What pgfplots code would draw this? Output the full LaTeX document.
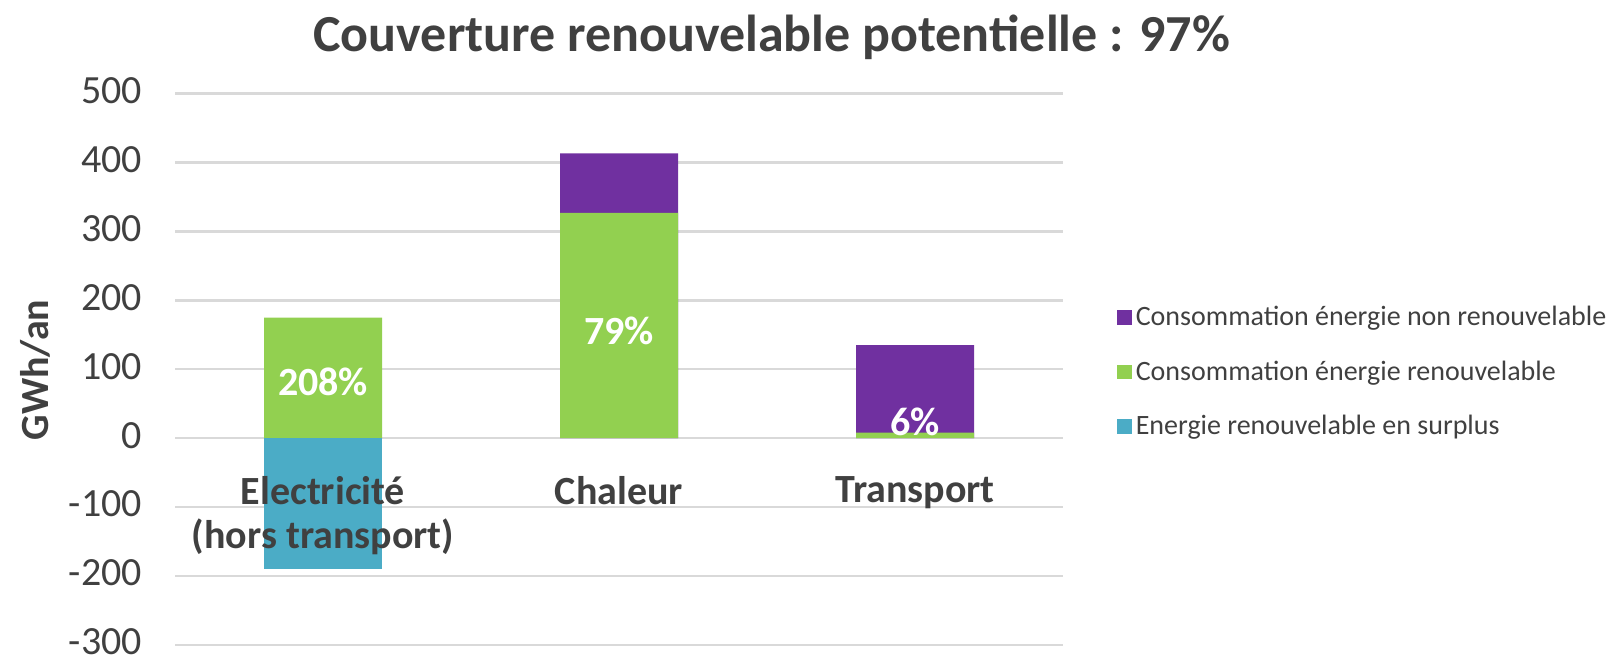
\documentclass[border=0pt]{standalone}
\usepackage{fontspec}
\setmainfont{Carlito}
\usepackage{pgfplots}
\pgfplotsset{compat=1.18}
\definecolor{cpurple}{HTML}{7030A0}
\definecolor{cgreen}{HTML}{92D050}
\definecolor{cblue}{HTML}{4BACC6}
\definecolor{ctext}{HTML}{404040}
\definecolor{cgrid}{HTML}{D9D9D9}
\pgfplotsset{
  sq/.style={legend image code/.code={\fill[##1,draw=none] (0pt,-3.6pt) rectangle (7.2pt,3.6pt);}},
  common/.style={
    at={(87.5pt,6.5pt)}, anchor=south west,
    width=444pt, height=275.75pt, scale only axis,
    xmin=-0.5, xmax=2.5, ymin=-300, ymax=500,
    axis x line*=middle, axis y line*=left,
    axis line style={draw=none},
    major tick length=0pt,
  },
}
\begin{document}
\begin{tikzpicture}
\begin{axis}[
  common,
  ytick={-300,-200,...,500},
  xtick={0,1,2},
  xticklabels={},
  yticklabel style={font=\fontsize{20}{24}\selectfont, text=ctext, inner ysep=0.5pt, xshift=-13pt, yshift=1.5pt},
  /pgf/number format/assume math mode=true,
  ymajorgrids, grid style={cgrid, line width=1.2pt},
  title={Couverture renouvelable potentielle : 97\%},
  title style={at={(axis description cs:0.672,1.08)}, anchor=center, font=\bfseries\fontsize{26}{30}\selectfont, text=ctext},
  ylabel={GWh/an},
  ylabel style={at={(axis description cs:-0.157,0.4986)}, anchor=center, font=\bfseries\fontsize{20}{24}\selectfont, text=ctext},
  legend style={at={(1.0608,0.495)}, anchor=west, draw=none, fill=none, inner sep=0pt, row sep=12pt, font=\fontsize{14}{16.5}\selectfont, text=ctext},
  legend cell align=left,
]
\addplot[ybar, bar width=59pt, bar shift=0pt, fill=cpurple, draw=none, sq] coordinates {(0,0) (1,413) (2,135)};
\addlegendentry{Consommation énergie non renouvelable}
\addplot[ybar, bar width=59pt, bar shift=0pt, fill=cgreen, draw=none, sq] coordinates {(0,175) (1,327) (2,8)};
\addlegendentry{Consommation énergie renouvelable}
\addplot[ybar, bar width=59pt, bar shift=0pt, fill=cblue, draw=none, sq] coordinates {(0,-190)};
\addlegendentry{Energie renouvelable en surplus}
\node[font=\bfseries\fontsize{20}{22}\selectfont, text=white] at (axis cs:0,82) {208\%};
\node[font=\bfseries\fontsize{20}{22}\selectfont, text=white] at (axis cs:1,156) {79\%};
\node[font=\bfseries\fontsize{20}{22}\selectfont, text=white] at (axis cs:2,24) {6\%};
\end{axis}
\begin{axis}[
  common,
  ytick=\empty,
  xtick={0,1,2},
  xticklabels={{Electricité\\(hors transport)},Chaleur,Transport},
  xticklabel style={align=center, font=\bfseries\fontsize{20}{22}\selectfont, text=ctext, yshift=-15.5pt},
]
\end{axis}
\pgfresetboundingbox
\useasboundingbox (0,0) rectangle (805.5pt,329pt);
\end{tikzpicture}
\end{document}
